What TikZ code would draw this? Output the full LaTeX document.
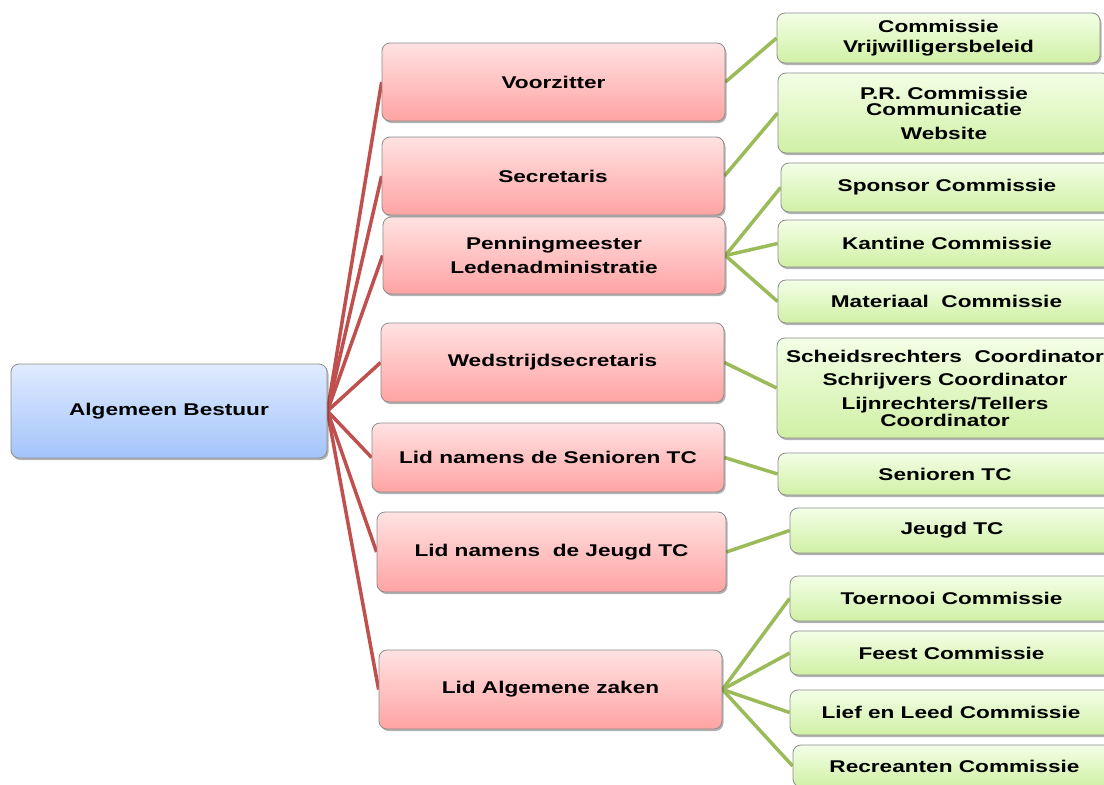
\documentclass[tikz,border=0pt]{standalone}
\usepackage{fontspec}
\setmainfont{Liberation Sans}[FakeStretch=1.33]
\usetikzlibrary{shadows,backgrounds}

\definecolor{redline}{RGB}{192,80,77}
\definecolor{greenline}{RGB}{155,187,89}
\definecolor{boxborder}{RGB}{140,140,140}
\definecolor{redTop}{RGB}{255,226,226}
\definecolor{redBot}{RGB}{255,163,163}
\definecolor{blueTop}{RGB}{224,235,255}
\definecolor{blueBot}{RGB}{163,196,250}
\definecolor{greenTop}{RGB}{243,255,230}
\definecolor{greenBot}{RGB}{208,240,165}

\tikzset{
  box/.style={draw=boxborder, line width=0.8pt, rounded corners=8pt,
    align=center, inner sep=0pt,
    font=\fontsize{17}{24}\selectfont\bfseries,
    drop shadow={shadow xshift=1.5pt, shadow yshift=-2pt, fill=black, opacity=0.3}},
  bluebox/.style={box, top color=blueTop, bottom color=blueBot},
  redbox/.style={box, top color=redTop, bottom color=redBot},
  greenbox/.style={box, top color=greenTop, bottom color=greenBot},
  redlink/.style={draw=redline, line width=3.5pt},
  greenlink/.style={draw=greenline, line width=3.5pt},
}

\begin{document}
\begin{tikzpicture}[x=1pt,y=-1pt]
\useasboundingbox (0,0) rectangle (1104,785);
\clip (0,0) rectangle (1104,785);

% root
\node[bluebox, minimum width=316pt, minimum height=94pt] (ab) at (169,411) {Algemeen Bestuur};

% red level
\node[redbox, minimum width=343pt, minimum height=78pt] (vz) at (553.5,82) {Voorzitter};
\node[redbox, minimum width=342pt, minimum height=78pt] (se) at (553,176) {Secretaris};
\node[redbox, minimum width=342pt, minimum height=77pt] (pm) at (554,255.5) {Penningmeester\\Ledenadministratie};
\node[redbox, minimum width=343pt, minimum height=79pt] (ws) at (552.5,362.5) {Wedstrijdsecretaris};
\node[redbox, minimum width=352pt, minimum height=69pt] (ls) at (548,457.5) {Lid namens de Senioren TC};
\node[redbox, minimum width=349pt, minimum height=80pt] (lj) at (551.5,552) {Lid namens~~de Jeugd TC};
\node[redbox, minimum width=343pt, minimum height=79pt] (la) at (550.5,689.5) {Lid Algemene zaken};

% green level
\node[greenbox, minimum width=323pt, minimum height=50pt] (g1) at (938.5,38) {Commissie\\[-4pt]Vrijwilligersbeleid};
\node[greenbox, minimum width=332pt, minimum height=80pt] (g2) at (944,113) {P.R. Commissie\\[-8pt]Communicatie\\Website};
\node[greenbox, minimum width=332pt, minimum height=49pt] (g3) at (947,187.5) {Sponsor Commissie};
\node[greenbox, minimum width=338pt, minimum height=47pt] (g4) at (947,243.5) {Kantine Commissie};
\node[greenbox, minimum width=337pt, minimum height=43pt] (g5) at (946.5,301.5) {Materiaal~ Commissie};
\node[greenbox, minimum width=336pt, minimum height=100pt] (g6) at (945,388) {Scheidsrechters~ Coordinator\\[-1pt]Schrijvers Coordinator\\Lijnrechters/Tellers\\[-7pt]Coordinator};
\node[greenbox, minimum width=334pt, minimum height=42pt] (g7) at (945,474) {Senioren TC};
\node[greenbox, minimum width=324pt, minimum height=45pt] (g8) at (952,530.5) {Jeugd TC};
\node[greenbox, minimum width=323pt, minimum height=45pt] (g9) at (951.5,598.5) {Toernooi Commissie};
\node[greenbox, minimum width=323pt, minimum height=44pt] (g10) at (951.5,653) {Feest Commissie};
\node[greenbox, minimum width=322pt, minimum height=45pt] (g11) at (951,712.5) {Lief en Leed Commissie};
\node[greenbox, minimum width=323pt, minimum height=42pt] (g12) at (954.5,766) {Recreanten Commissie};

\begin{pgfonlayer}{background}
  \foreach \r in {vz,se,pm,ws,ls,lj,la}
    \draw[redlink] (ab.east) -- (\r.west);
  \draw[greenlink] (vz.east) -- (g1.west);
  \draw[greenlink] (se.east) -- (g2.west);
  \foreach \g in {g3,g4,g5}
    \draw[greenlink] (pm.east) -- (\g.west);
  \draw[greenlink] (ws.east) -- (g6.west);
  \draw[greenlink] (ls.east) -- (g7.west);
  \draw[greenlink] (lj.east) -- (g8.west);
  \foreach \g in {g9,g10,g11,g12}
    \draw[greenlink] (la.east) -- (\g.west);
\end{pgfonlayer}
\end{tikzpicture}
\end{document}
